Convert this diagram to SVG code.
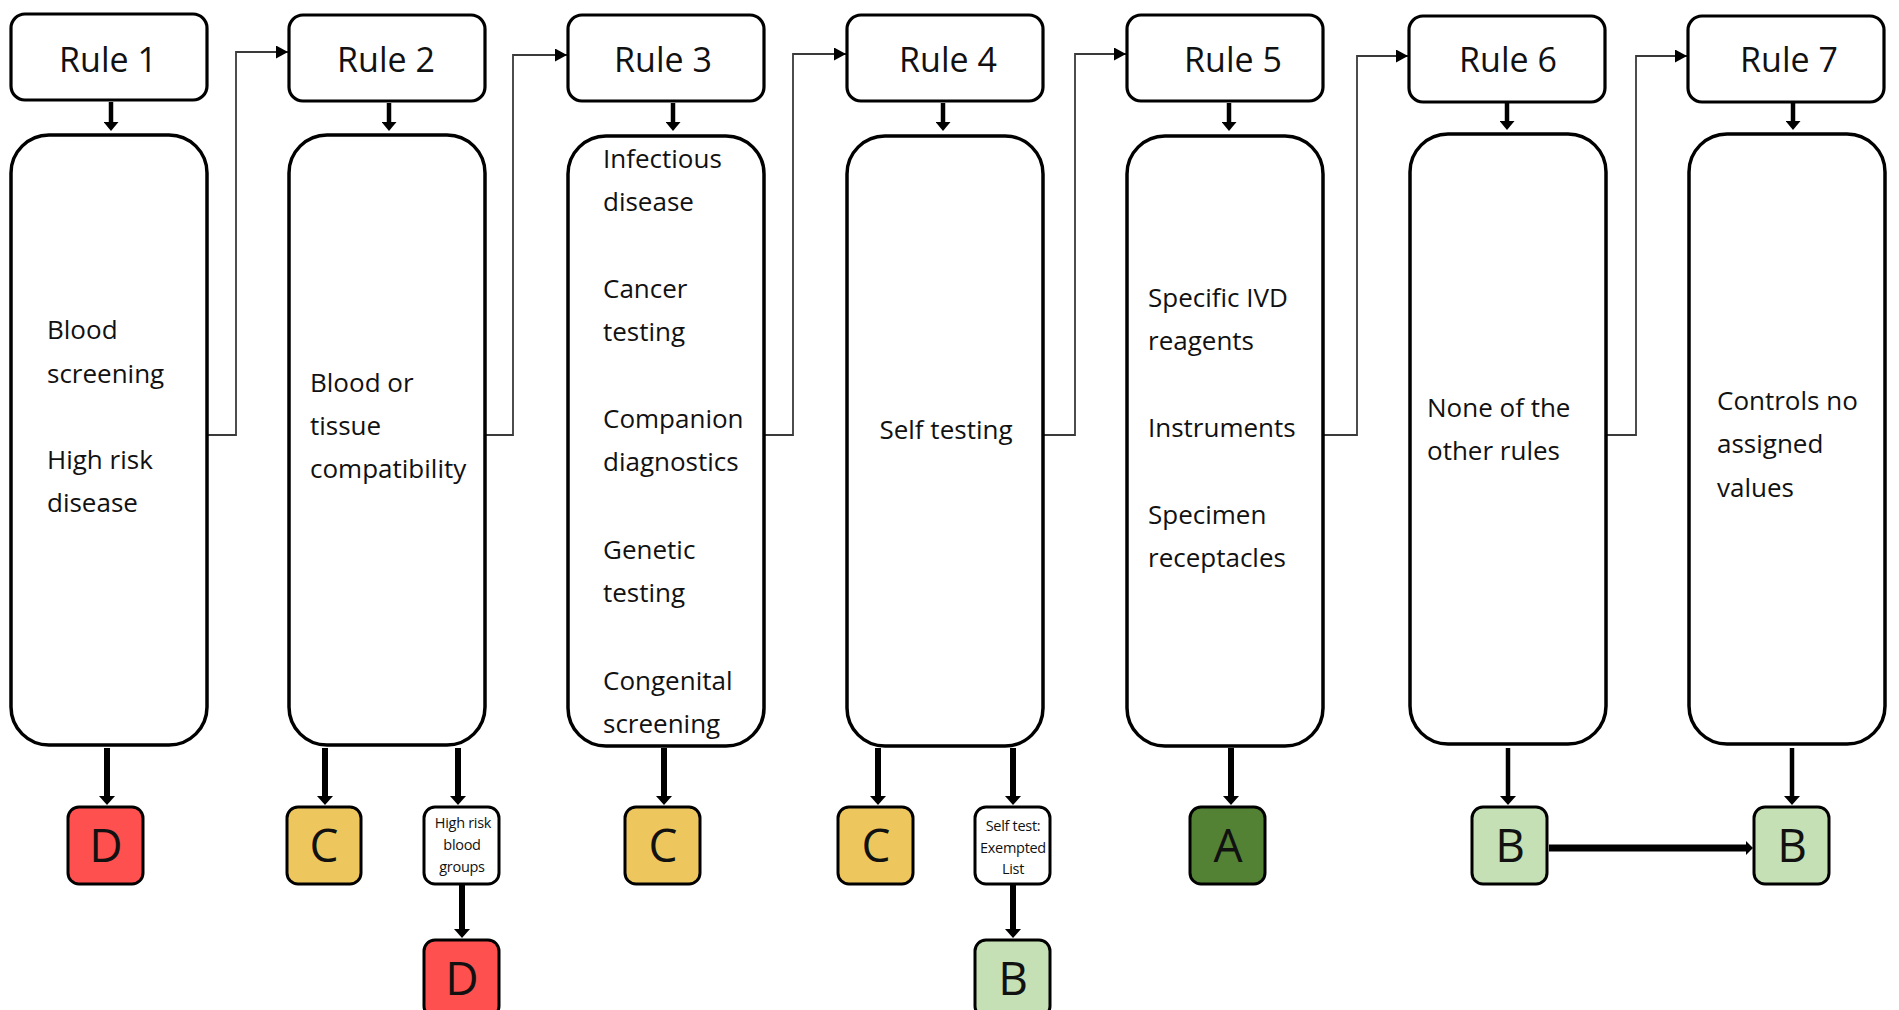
<svg xmlns="http://www.w3.org/2000/svg" width="1899" height="1010" viewBox="0 0 1899 1010">
<style>
  .hdr{fill:#fff;stroke:#000;stroke-width:3.2}
  .box{fill:#fff;stroke:#000;stroke-width:3.5}
  .grd{stroke:#000;stroke-width:3}
  .sm{fill:#fff;stroke:#000;stroke-width:3}
  .t{font-family:"Open Sans","Liberation Sans",sans-serif;fill:#111}
  .rl{font-size:34px;text-anchor:middle}
  .bd{font-size:26px}
  .gl{font-size:46px;text-anchor:middle}
  .st{font-size:14.5px;text-anchor:middle;letter-spacing:-0.3px}
  .thin{fill:none;stroke:#3a3a3a;stroke-width:1.8;marker-end:url(#mThin)}
  .dn{fill:none;stroke:#000;stroke-width:4.5;marker-end:url(#mHead)}
  .dk{fill:none;stroke:#000;stroke-width:6;marker-end:url(#mBig)}
  .dk2{fill:none;stroke:#000;stroke-width:4.5;marker-end:url(#mBig)}
  .hz{fill:none;stroke:#000;stroke-width:7;marker-end:url(#mHz)}
  .red{fill:#FF5050}.gold{fill:#EDC75E}.dg{fill:#548235}.lg{fill:#C5E0B4}
</style>
<defs>
  <marker id="mThin" markerUnits="userSpaceOnUse" markerWidth="13" markerHeight="13" refX="12" refY="6.5" orient="auto"><path d="M0,0 L12,6.5 L0,13 z" fill="#000"/></marker>
  <marker id="mHead" markerUnits="userSpaceOnUse" markerWidth="10" markerHeight="15" refX="1" refY="7.5" orient="auto"><path d="M0,0 L9,7.5 L0,15 z" fill="#000"/></marker>
  <marker id="mBig" markerUnits="userSpaceOnUse" markerWidth="10" markerHeight="16" refX="1" refY="8" orient="auto"><path d="M0,0 L9,8 L0,16 z" fill="#000"/></marker>
  <marker id="mHz" markerUnits="userSpaceOnUse" markerWidth="8" markerHeight="14" refX="1" refY="7" orient="auto"><path d="M0,0 L7,7 L0,14 z" fill="#000"/></marker>
</defs>

<g id="connectors">
  <path class="dn" d="M111,102 V123"/>
  <path class="dn" d="M389,103 V123"/>
  <path class="dn" d="M673,103 V123"/>
  <path class="dn" d="M943,103 V123"/>
  <path class="dn" d="M1229,103 V123"/>
  <path class="dn" d="M1507,103 V122"/>
  <path class="dn" d="M1793,103 V122"/>
  <path class="thin" d="M207,435 H236 V52 H288"/>
  <path class="thin" d="M485,435 H513 V55 H567"/>
  <path class="thin" d="M764,435 H793 V54 H846"/>
  <path class="thin" d="M1043,435 H1075 V54 H1126"/>
  <path class="thin" d="M1323,435 H1357 V56 H1408"/>
  <path class="thin" d="M1605,435 H1636 V56 H1687"/>
  <path class="dk" d="M107,748 V797"/>
  <path class="dk" d="M325,748 V797"/>
  <path class="dk" d="M458,748 V797"/>
  <path class="dk" d="M462,885 V930"/>
  <path class="dk" d="M664,748 V797"/>
  <path class="dk" d="M878,748 V797"/>
  <path class="dk" d="M1013,748 V797"/>
  <path class="dk" d="M1013,885 V930"/>
  <path class="dk" d="M1231,748 V797"/>
  <path class="dk2" d="M1508,748 V797"/>
  <path class="dk2" d="M1792,748 V797"/>
  <path class="hz" d="M1549,848 H1747"/>
</g>

<g id="rule1">
  <rect class="hdr" x="11" y="14" width="196" height="86" rx="14"/>
  <text class="t rl" x="108" y="72">Rule 1</text>
  <rect class="box" x="11" y="135" width="196" height="610" rx="38"/>
  <text class="t bd"><tspan x="47" y="339">Blood</tspan><tspan x="47" y="383">screening</tspan><tspan x="47" y="469">High risk</tspan><tspan x="47" y="512">disease</tspan></text>
</g>
<g id="rule2">
  <rect class="hdr" x="289" y="15" width="196" height="86" rx="14"/>
  <text class="t rl" x="386" y="72">Rule 2</text>
  <rect class="box" x="289" y="135" width="196" height="610" rx="38"/>
  <text class="t bd"><tspan x="310" y="392">Blood or</tspan><tspan x="310" y="435">tissue</tspan><tspan x="310" y="478">compatibility</tspan></text>
</g>
<g id="rule3">
  <rect class="hdr" x="568" y="15" width="196" height="86" rx="14"/>
  <text class="t rl" x="663" y="72">Rule 3</text>
  <rect class="box" x="568" y="136" width="196" height="610" rx="38"/>
  <text class="t bd"><tspan x="603" y="168">Infectious</tspan><tspan x="603" y="211">disease</tspan><tspan x="603" y="298">Cancer</tspan><tspan x="603" y="341">testing</tspan><tspan x="603" y="428">Companion</tspan><tspan x="603" y="471">diagnostics</tspan><tspan x="603" y="559">Genetic</tspan><tspan x="603" y="602">testing</tspan><tspan x="603" y="690">Congenital</tspan><tspan x="603" y="733">screening</tspan></text>
</g>
<g id="rule4">
  <rect class="hdr" x="847" y="15" width="196" height="86" rx="14"/>
  <text class="t rl" x="948" y="72">Rule 4</text>
  <rect class="box" x="847" y="136" width="196" height="610" rx="38"/>
  <text class="t bd" x="946" y="439" text-anchor="middle">Self testing</text>
</g>
<g id="rule5">
  <rect class="hdr" x="1127" y="15" width="196" height="86" rx="14"/>
  <text class="t rl" x="1233" y="72">Rule 5</text>
  <rect class="box" x="1127" y="136" width="196" height="610" rx="38"/>
  <text class="t bd"><tspan x="1148" y="307">Specific IVD</tspan><tspan x="1148" y="350">reagents</tspan><tspan x="1148" y="437">Instruments</tspan><tspan x="1148" y="524">Specimen</tspan><tspan x="1148" y="567">receptacles</tspan></text>
</g>
<g id="rule6">
  <rect class="hdr" x="1409" y="16" width="196" height="86" rx="14"/>
  <text class="t rl" x="1508" y="72">Rule 6</text>
  <rect class="box" x="1410" y="134" width="196" height="610" rx="38"/>
  <text class="t bd"><tspan x="1427" y="417">None of the</tspan><tspan x="1427" y="460">other rules</tspan></text>
</g>
<g id="rule7">
  <rect class="hdr" x="1688" y="16" width="196" height="86" rx="14"/>
  <text class="t rl" x="1789" y="72">Rule 7</text>
  <rect class="box" x="1689" y="134" width="196" height="610" rx="38"/>
  <text class="t bd"><tspan x="1717" y="410">Controls no</tspan><tspan x="1717" y="453">assigned</tspan><tspan x="1717" y="497">values</tspan></text>
</g>

<g id="grade-r1-D">
  <rect class="grd red" x="68" y="807" width="75" height="77" rx="11"/>
  <text class="t gl" x="106" y="862">D</text>
</g>
<g id="grade-r2-C">
  <rect class="grd gold" x="287" y="807" width="74" height="77" rx="11"/>
  <text class="t gl" x="324" y="862">C</text>
</g>
<g id="high-risk-blood-groups">
  <rect class="sm" x="424" y="807" width="75" height="77" rx="11"/>
  <text class="t st"><tspan x="463" y="828">High risk</tspan><tspan x="462" y="850">blood</tspan><tspan x="462" y="872">groups</tspan></text>
</g>
<g id="grade-r2-D">
  <rect class="grd red" x="424" y="940" width="75" height="77" rx="11"/>
  <text class="t gl" x="462" y="995">D</text>
</g>
<g id="grade-r3-C">
  <rect class="grd gold" x="625" y="807" width="75" height="77" rx="11"/>
  <text class="t gl" x="663" y="862">C</text>
</g>
<g id="grade-r4-C">
  <rect class="grd gold" x="838" y="807" width="75" height="77" rx="11"/>
  <text class="t gl" x="876" y="862">C</text>
</g>
<g id="self-test-exempted">
  <rect class="sm" x="975" y="807" width="75" height="77" rx="11"/>
  <text class="t st"><tspan x="1013" y="831">Self test:</tspan><tspan x="1013" y="853">Exempted</tspan><tspan x="1013" y="874">List</tspan></text>
</g>
<g id="grade-r4-B">
  <rect class="grd lg" x="975" y="940" width="75" height="77" rx="11"/>
  <text class="t gl" x="1013" y="995">B</text>
</g>
<g id="grade-r5-A">
  <rect class="grd dg" x="1190" y="807" width="75" height="77" rx="11"/>
  <text class="t gl" x="1228" y="862">A</text>
</g>
<g id="grade-r6-B">
  <rect class="grd lg" x="1472" y="807" width="75" height="77" rx="11"/>
  <text class="t gl" x="1510" y="862">B</text>
</g>
<g id="grade-r7-B">
  <rect class="grd lg" x="1754" y="807" width="75" height="77" rx="11"/>
  <text class="t gl" x="1792" y="862">B</text>
</g>
</svg>
